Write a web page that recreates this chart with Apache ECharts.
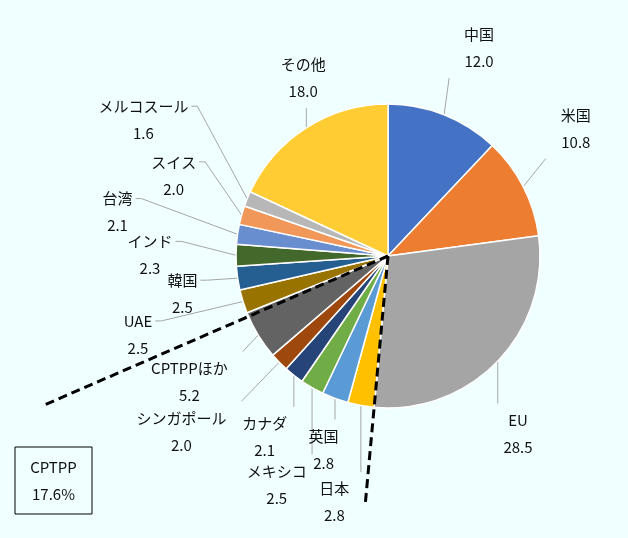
<!DOCTYPE html>
<html>
<head>
<meta charset="utf-8">
<script src="https://cdn.jsdelivr.net/npm/echarts@6/dist/echarts.min.js"></script>
<style>
  html, body { margin: 0; padding: 0; background: #f0ffff; }
  #chart { width: 628px; height: 538px; }
</style>
</head>
<body>
<div id="chart"></div>
<script>
// 地域別シェア（%）、12時の位置から時計回り
const regions = ['中国', '米国', 'EU', '日本', '英国', 'メキシコ', 'カナダ', 'シンガポール', 'CPTPPほか', 'UAE', '韓国', 'インド', '台湾', 'スイス', 'メルコスール', 'その他'];
const shares = [12.0, 10.8, 28.5, 2.8, 2.8, 2.5, 2.1, 2.0, 5.2, 2.5, 2.5, 2.3, 2.1, 2.0, 1.6, 18.0];
const cptppRegions = ['日本', '英国', 'メキシコ', 'カナダ', 'シンガポール', 'CPTPPほか'];
const cptppShare = 17.6;

const colors = ['#4472c4', '#ed7d31', '#a5a5a5', '#ffc000', '#5b9bd5', '#70ad47', '#264478', '#9e480e',
                '#636363', '#997300', '#255e91', '#43682b', '#698ed0', '#f1975a', '#b7b7b7', '#ffcd33'];
// ラベル配置（中心からの距離 px / 角度の補正 deg）
const labelDist = [227, 227, 220, 252, 204, 254, 219, 271, 235, 262, 209, 238, 274, 229, 280, 197];
const labelTurn = [2, -7, 10, 2, -2, -4, -4, 4, -1, 0, -2, 0, 1, 5, 7, 7];

const cx = 388, cy = 256, radius = 152;
const font = '"Noto Sans CJK JP", "Noto Sans", sans-serif';

// 各スライスの中心角（12時から時計回り、度）
const total = shares.reduce((s, v) => s + v, 0);
const midAngles = [];
const startAngles = [];
let acc = 0;
shares.forEach(v => {
    startAngles.push(acc / total * 360);
    midAngles.push((acc + v / 2) / total * 360);
    acc += v;
});

function pointAt(deg, r) {
    const a = deg * Math.PI / 180;
    return [cx + r * Math.sin(a), cy - r * Math.cos(a)];
}

// CPTPP の範囲を示す破線
const first = regions.indexOf(cptppRegions[0]);
const last = regions.indexOf(cptppRegions[cptppRegions.length - 1]);
const cptppFrom = startAngles[first];
const cptppTo = startAngles[last] + shares[last] / total * 360;
const dashEnd1 = pointAt(cptppFrom, 252);
const dashEnd2 = pointAt(cptppTo - 1.5, 374);

const chart = echarts.init(document.getElementById('chart'));

const option = {
    backgroundColor: '#f0ffff',
    animation: false,
    series: [{
        type: 'pie',
        center: [cx, cy],
        radius: radius,
        startAngle: 90,
        clockwise: true,
        avoidLabelOverlap: false,
        itemStyle: { borderColor: '#ffffff', borderWidth: 1.5 },
        label: {
            show: true,
            position: 'outside',
            fontFamily: font,
            fontSize: 15,
            lineHeight: 27,
            color: '#111',
            formatter: p => p.name + '\n' + p.value.toFixed(1)
        },
        labelLine: {
            show: true,
            length: 10,
            length2: 5,
            lineStyle: { color: '#a6a6a6', width: 1 }
        },
        emphasis: { disabled: true },
        labelLayout: function (p) {
            const i = p.dataIndex;
            const [x, y] = pointAt(midAngles[i] + labelTurn[i], labelDist[i]);
            const w = p.labelRect.width, h = p.labelRect.height;
            const deg = midAngles[i];
            const edge = pointAt(deg, radius);
            let pts;
            if (deg > 240 && deg < 300) {
                const ny = y - h / 4;
                pts = [edge, [x + w / 2 + 9, ny], [x + w / 2 + 3, ny]];
            } else if (deg > 65 && deg < 115) {
                const ny = y - h / 4;
                pts = [edge, [x - w / 2 - 9, ny], [x - w / 2 - 3, ny]];
            } else {
                const tx = Math.min(Math.max(edge[0], x - w / 2 - 15), x + w / 2 + 15);
                const ty = y < edge[1] ? y + h / 2 + 3 : y - h / 2 - 3;
                pts = [edge, [tx, ty], [tx, ty]];
            }
            return { x: x, y: y, align: 'center', verticalAlign: 'middle', labelLinePoints: pts };
        },
        data: regions.map((name, i) => ({
            name: name,
            value: shares[i],
            itemStyle: { color: colors[i] }
        }))
    }],
    graphic: [
        {
            type: 'line',
            z: 100,
            shape: { x1: cx, y1: cy, x2: dashEnd1[0], y2: dashEnd1[1] },
            style: { stroke: '#000', lineWidth: 3, lineDash: [9, 5] }
        },
        {
            type: 'line',
            z: 100,
            shape: { x1: cx, y1: cy, x2: dashEnd2[0], y2: dashEnd2[1] },
            style: { stroke: '#000', lineWidth: 3, lineDash: [9, 5] }
        },
        {
            type: 'rect',
            z: 100,
            shape: { x: 15, y: 447, width: 77, height: 67 },
            style: { fill: 'none', stroke: '#000', lineWidth: 1 }
        },
        {
            type: 'text',
            z: 100,
            x: 53.5,
            y: 480.5,
            style: {
                text: 'CPTPP\n' + cptppShare.toFixed(1) + '%',
                fill: '#111',
                font: '15px ' + font,
                lineHeight: 27,
                align: 'center',
                verticalAlign: 'middle'
            }
        }
    ]
};

chart.setOption(option);
</script>
</body>
</html>
